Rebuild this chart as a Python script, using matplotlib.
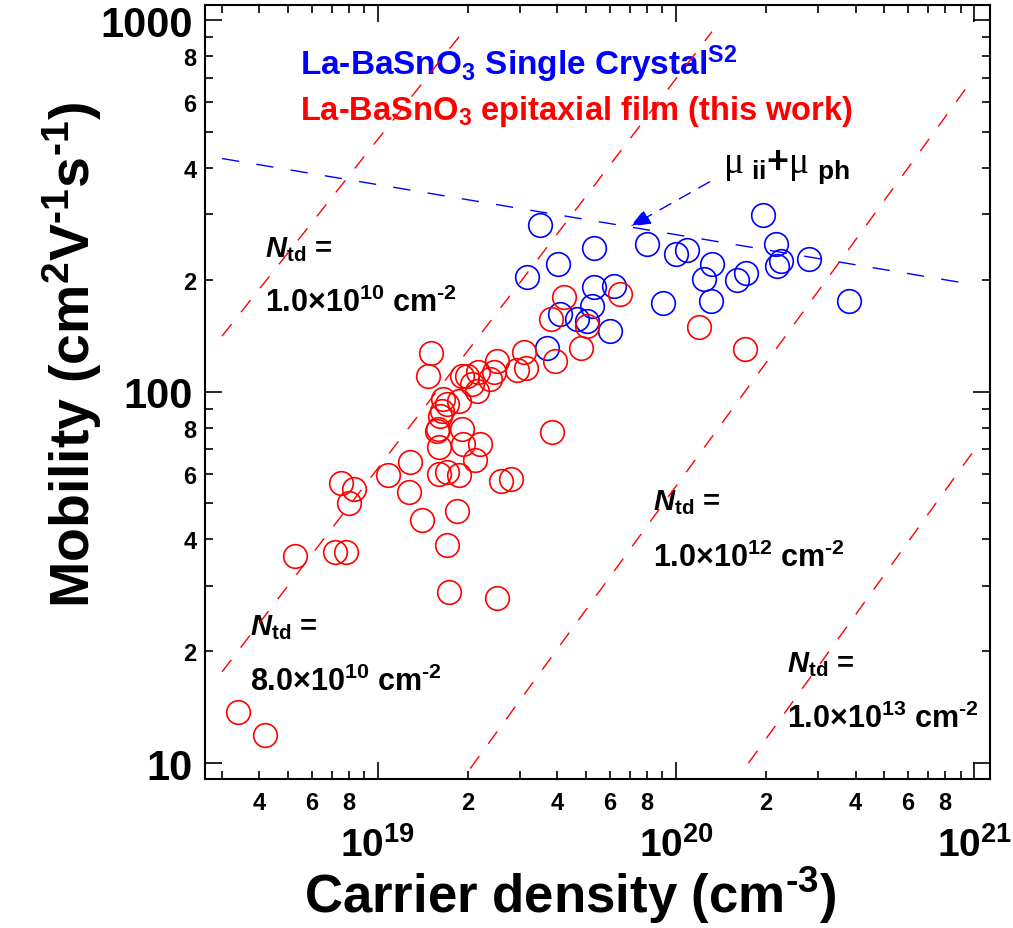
import numpy as np
import matplotlib
matplotlib.use('Agg')
import matplotlib.pyplot as plt
from matplotlib.ticker import LogLocator, FuncFormatter

plt.rcParams['font.family'] = 'Liberation Sans'
plt.rcParams['font.weight'] = 'bold'
plt.rcParams['mathtext.fontset'] = 'custom'
plt.rcParams['mathtext.rm'] = 'Liberation Sans:bold'
plt.rcParams['mathtext.sf'] = 'Liberation Serif:weight=normal'
plt.rcParams['mathtext.bf'] = 'Liberation Sans:bold'
plt.rcParams['mathtext.it'] = 'Liberation Sans:italic'
plt.rcParams['mathtext.bfit'] = 'Liberation Sans:bold:italic'
plt.rcParams['mathtext.default'] = 'bf'

# epitaxial films (this work)
film_n = [3.39e18, 4.18e18, 5.27e18, 7.18e18, 7.81e18, 7.51e18, 8.31e18, 8.0e18,
          1.08e19, 1.28e19, 1.27e19, 1.41e19, 1.84e19, 1.71e19, 1.73e19, 2.51e19,
          1.51e19, 1.47e19, 1.60e19, 1.71e19, 1.87e19, 1.60e19, 1.93e19, 2.20e19,
          2.12e19, 1.59e19, 1.58e19, 1.91e19, 1.61e19, 1.64e19, 1.65e19, 1.71e19,
          1.87e19, 1.91e19, 1.99e19, 2.07e19, 2.15e19, 2.17e19, 2.38e19, 2.45e19,
          2.51e19, 2.59e19, 2.79e19, 2.93e19, 3.14e19, 3.09e19, 3.93e19, 4.80e19,
          3.84e19, 4.21e19, 6.49e19, 3.81e19, 5.03e19, 1.19e20, 1.70e20]
film_mu = [13.7, 11.9, 36.0, 37.1, 37.1, 56.9, 54.8, 50.0,
           59.8, 64.8, 53.8, 45.0, 47.8, 38.7, 28.9, 27.9,
           127, 110, 60.1, 60.9, 59.8, 71.1, 72.4, 72.4,
           65.6, 79.5, 78.5, 79.5, 85.7, 88.9, 95.8, 92.8,
           94.6, 110, 110, 105, 100.6, 113.2, 108.4, 113.2,
           120.5, 57.3, 58.0, 114.6, 116.0, 128.1, 121.1, 131.3,
           78.0, 180.2, 183.6, 157.2, 150.5, 149.6, 130.5]

# single crystals (ref S2)
xtal_n = [3.50e19, 5.31e19, 4.02e19, 3.16e19, 8.0e19, 1.0e20, 1.09e20, 1.24e20,
          1.32e20, 1.31e20, 1.60e20, 1.72e20, 1.96e20, 2.17e20, 2.18e20, 2.25e20,
          2.79e20, 3.81e20, 9.04e19, 5.31e19, 6.19e19, 5.23e19, 4.08e19, 4.65e19,
          5.03e19, 6.01e19, 3.69e19]
xtal_mu = [280, 244, 220, 203, 249, 234, 240, 201,
           220, 175, 200, 209, 299, 250, 218, 224,
           227, 175, 173, 191, 192, 170, 162, 157,
           155, 146, 131]

# threading dislocation limited curves (endpoints)
ntd_labels = ['1.0', '8.0', '1.0', '1.0']
ntd_exp = [10, 10, 12, 13]
ntd_n = [[3.0e18, 1.99e19], [3.0e18, 1.32e20], [2.04e19, 9.48e20], [1.75e20, 1.01e21]]
ntd_mu = [[141, 960], [17.6, 931], [9.67, 662], [10.0, 70.3]]

# mu_ii + mu_ph
ph_n = [3.0e18, 1.0e21]
ph_mu = [424, 194]

fig = plt.figure(figsize=(10.13, 9.29), dpi=100)
ax = fig.add_axes([205/1013, 1-780/929, 785/1013, 774/929])
ax.set_xscale('log')
ax.set_yscale('log')
ax.set_xlim(2.63e18, 1.13e21)
ax.set_ylim(9.06, 1098)

for n, mu in zip(ntd_n, ntd_mu):
    ax.plot(n, mu, color='red', lw=1.0, ls=(0, (11, 11)), zorder=3.5)
ax.plot(ph_n, ph_mu, color='blue', lw=1.0, ls=(0, (12.5, 12.5)), zorder=3.5)

ax.plot(xtal_n, xtal_mu, 'o', mfc='none', mec='blue', ms=17, mew=1.2, ls='none')
ax.plot(film_n, film_mu, 'o', mfc='none', mec='red', ms=17, mew=1.2, ls='none')

# arrow pointing at the mu_ii + mu_ph line
ax.annotate('', xy=(6.9e19, 276), xytext=(1.32e20, 370),
            arrowprops=dict(arrowstyle='-|>,head_length=1.25,head_width=0.5',
                            color='blue', lw=1.0, ls=(0, (9, 7))))

ax.text(0.121, 0.911, r'La-BaSnO$_\mathbf{3}$ Single Crystal$^\mathbf{S2}$',
        transform=ax.transAxes, color='blue', fontsize=24, va='baseline')
ax.text(0.121, 0.853, r'La-BaSnO$_\mathbf{3}$ epitaxial film (this work)',
        transform=ax.transAxes, color='red', fontsize=23.5, va='baseline')
ax.text(0.660, 0.784, r'$\mathsf{\mu}_{\ \mathbf{ii}}\mathbf{+}\mathsf{\mu}_{\ \mathbf{ph}}$',
        transform=ax.transAxes, fontsize=27, va='baseline')

ntd_pos = [(0.0764, 0.676, 0.605), (0.0573, 0.187, 0.115),
           (0.571, 0.349, 0.275), (0.741, 0.1395, 0.067)]
for (x, y1, y2), lab, e in zip(ntd_pos, ntd_labels, ntd_exp):
    ax.text(x, y1, r'$\mathbfit{N}_\mathbf{td}$ =', transform=ax.transAxes,
            fontsize=21, va='baseline')
    ax.text(x, y2, r'%s$\times$10$^{\mathbf{%d}}$ cm$^{\text{-2}}$' % (lab, e),
            transform=ax.transAxes, fontsize=22, va='baseline')

ax.xaxis.set_major_locator(LogLocator(base=10))
ax.xaxis.set_minor_locator(LogLocator(base=10, subs=np.arange(2, 10)))
ax.yaxis.set_major_locator(LogLocator(base=10))
ax.yaxis.set_minor_locator(LogLocator(base=10, subs=np.arange(2, 10)))


def minor_fmt(v, pos):
    d = int(round(v / 10 ** np.floor(np.log10(v) + 1e-9)))
    return str(d) if d in (2, 4, 6, 8) else ''


ax.xaxis.set_major_formatter(FuncFormatter(lambda v, p: r'$10^{%d}$' % round(np.log10(v))))
ax.yaxis.set_major_formatter(FuncFormatter(lambda v, p: '%d' % round(v)))
ax.xaxis.set_minor_formatter(FuncFormatter(minor_fmt))
ax.yaxis.set_minor_formatter(FuncFormatter(minor_fmt))

ax.tick_params(which='both', direction='in', top=True, right=True, width=1.2)
ax.tick_params(which='major', length=12)
ax.tick_params(which='minor', length=6, labelsize=17)
ax.tick_params(axis='x', which='minor', pad=9)
ax.tick_params(axis='x', which='major', pad=34, labelsize=28)
ax.tick_params(axis='y', which='minor', pad=6)
ax.tick_params(axis='y', which='major', pad=9, labelsize=30)
for s in ax.spines.values():
    s.set_linewidth(1.5)

fig.text(0.563, 0.036, r'Carrier density (cm$^{\text{-3}}$)', fontsize=38,
         ha='center', va='center')
fig.text(0.071, 0.618, r'Mobility (cm$^{\mathbf{2}}$V$^{\text{-1}}$s$^{\text{-1}}$)',
         fontsize=40, rotation=90, ha='center', va='center')

fig.savefig('out.png', dpi=100)
